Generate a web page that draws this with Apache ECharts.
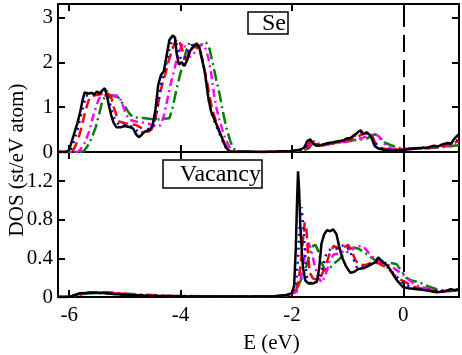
<!DOCTYPE html>
<html>
<head>
<meta charset="utf-8">
<script src="https://cdn.jsdelivr.net/npm/echarts@6/dist/echarts.min.js"></script>
<style>
html, body { margin: 0; padding: 0; background: #fff; }
#chart { width: 462px; height: 355px; }
</style>
</head>
<body>
<div id="chart"></div>
<script>
// tick labels
var xTicks = [-6, -4, -2, 0];
var seTicks = [0, 1, 2, 3];
var vacTicks = [0, 0.4, 0.8, 1.2];

// Se panel, [E, DOS]
var seBlack = [[-6.2,0],[-6.05,0],[-6.0,0.05],[-5.95,0.25],[-5.9,0.45],[-5.85,0.65],[-5.8,0.9],[-5.76,1.15],[-5.72,1.33],[-5.66,1.3],[-5.6,1.32],[-5.55,1.28],[-5.5,1.35],[-5.45,1.3],[-5.4,1.38],[-5.36,1.42],[-5.32,1.25],[-5.28,1.0],[-5.24,0.8],[-5.2,0.65],[-5.15,0.55],[-5.08,0.55],[-5.0,0.58],[-4.9,0.55],[-4.85,0.52],[-4.8,0.4],[-4.75,0.33],[-4.7,0.38],[-4.65,0.45],[-4.55,0.5],[-4.5,0.6],[-4.45,0.95],[-4.4,1.5],[-4.35,1.72],[-4.3,1.8],[-4.25,2.15],[-4.2,2.5],[-4.14,2.6],[-4.1,2.55],[-4.07,2.2],[-4.03,1.95],[-3.98,2.0],[-3.93,1.92],[-3.88,2.05],[-3.83,2.25],[-3.77,2.35],[-3.71,2.42],[-3.66,2.32],[-3.61,2.05],[-3.56,1.75],[-3.5,1.2],[-3.45,0.9],[-3.4,0.75],[-3.35,0.6],[-3.3,0.45],[-3.25,0.3],[-3.2,0.15],[-3.15,0.05],[-3.1,0.01],[-2.5,0],[-2.0,0.02],[-1.85,0.05],[-1.78,0.1],[-1.72,0.25],[-1.67,0.28],[-1.62,0.2],[-1.57,0.14],[-1.48,0.15],[-1.35,0.2],[-1.25,0.22],[-1.17,0.24],[-1.08,0.25],[-1.02,0.3],[-0.95,0.31],[-0.9,0.36],[-0.85,0.4],[-0.8,0.46],[-0.76,0.48],[-0.72,0.4],[-0.66,0.44],[-0.6,0.38],[-0.56,0.28],[-0.51,0.13],[-0.45,0.08],[-0.35,0.05],[-0.2,0.04],[0,0.04],[0.1,0.07],[0.3,0.09],[0.45,0.1],[0.55,0.14],[0.62,0.12],[0.7,0.17],[0.8,0.2],[0.86,0.18],[0.9,0.27],[0.95,0.34],[1.0,0.4]];
var seBlue = [[-6.2,0],[-6.0,0],[-5.95,0.1],[-5.9,0.3],[-5.85,0.5],[-5.8,0.75],[-5.75,1.0],[-5.7,1.25],[-5.65,1.28],[-5.55,1.3],[-5.45,1.32],[-5.38,1.38],[-5.32,1.35],[-5.27,1.1],[-5.22,0.85],[-5.17,0.7],[-5.1,0.6],[-5.0,0.6],[-4.9,0.58],[-4.8,0.5],[-4.75,0.42],[-4.7,0.42],[-4.6,0.5],[-4.5,0.55],[-4.45,0.7],[-4.4,1.1],[-4.35,1.5],[-4.3,1.75],[-4.25,2.0],[-4.2,2.3],[-4.15,2.5],[-4.1,2.55],[-4.05,2.3],[-4.0,2.1],[-3.95,2.05],[-3.9,2.15],[-3.85,2.3],[-3.8,2.38],[-3.74,2.4],[-3.68,2.35],[-3.63,2.2],[-3.58,1.9],[-3.53,1.5],[-3.48,1.05],[-3.43,0.8],[-3.38,0.65],[-3.33,0.5],[-3.28,0.35],[-3.23,0.2],[-3.18,0.08],[-3.13,0.02],[-3.08,0],[-2.5,0],[-2.0,0.02],[-1.82,0.05],[-1.75,0.12],[-1.7,0.24],[-1.65,0.26],[-1.6,0.18],[-1.55,0.14],[-1.45,0.16],[-1.3,0.2],[-1.15,0.24],[-1.0,0.28],[-0.9,0.34],[-0.8,0.42],[-0.72,0.45],[-0.66,0.42],[-0.6,0.4],[-0.52,0.25],[-0.46,0.12],[-0.38,0.07],[-0.2,0.05],[0,0.05],[0.2,0.08],[0.4,0.1],[0.6,0.13],[0.75,0.17],[0.88,0.2],[0.95,0.25],[1.0,0.3]];
var seRed = [[-6.2,0],[-5.95,0],[-5.9,0.1],[-5.85,0.25],[-5.8,0.45],[-5.75,0.7],[-5.7,0.95],[-5.65,1.15],[-5.6,1.25],[-5.5,1.27],[-5.4,1.3],[-5.3,1.3],[-5.25,1.25],[-5.2,1.0],[-5.15,0.82],[-5.1,0.68],[-5.0,0.64],[-4.9,0.62],[-4.8,0.6],[-4.72,0.55],[-4.65,0.48],[-4.58,0.45],[-4.52,0.5],[-4.47,0.65],[-4.42,0.95],[-4.37,1.3],[-4.32,1.55],[-4.27,1.75],[-4.22,2.0],[-4.16,2.25],[-4.1,2.45],[-4.05,2.52],[-4.0,2.4],[-3.95,2.2],[-3.9,2.05],[-3.85,2.2],[-3.8,2.3],[-3.74,2.36],[-3.68,2.3],[-3.63,2.15],[-3.58,1.9],[-3.53,1.6],[-3.48,1.25],[-3.43,0.95],[-3.38,0.75],[-3.33,0.55],[-3.28,0.38],[-3.23,0.22],[-3.18,0.1],[-3.13,0.03],[-3.08,0],[-2.5,0],[-2.0,0.02],[-1.8,0.05],[-1.72,0.12],[-1.67,0.24],[-1.62,0.26],[-1.57,0.18],[-1.5,0.14],[-1.4,0.17],[-1.25,0.2],[-1.1,0.24],[-0.95,0.28],[-0.85,0.33],[-0.75,0.38],[-0.68,0.42],[-0.62,0.4],[-0.56,0.35],[-0.5,0.2],[-0.43,0.1],[-0.3,0.06],[0,0.05],[0.2,0.07],[0.4,0.09],[0.6,0.12],[0.75,0.15],[0.88,0.18],[1.0,0.25]];
var seMagenta = [[-6.2,0],[-5.85,0],[-5.8,0.05],[-5.72,0.2],[-5.64,0.46],[-5.58,0.75],[-5.52,1.0],[-5.46,1.2],[-5.4,1.25],[-5.3,1.27],[-5.2,1.26],[-5.1,1.25],[-5.04,1.05],[-4.98,0.85],[-4.92,0.72],[-4.8,0.68],[-4.7,0.66],[-4.6,0.64],[-4.5,0.6],[-4.42,0.56],[-4.36,0.6],[-4.3,0.8],[-4.24,1.15],[-4.18,1.5],[-4.12,1.8],[-4.06,2.1],[-4.0,2.3],[-3.96,2.43],[-3.9,2.3],[-3.84,2.12],[-3.78,2.15],[-3.72,2.3],[-3.66,2.38],[-3.6,2.4],[-3.55,2.3],[-3.5,2.1],[-3.45,1.75],[-3.4,1.3],[-3.35,0.95],[-3.3,0.7],[-3.25,0.5],[-3.2,0.32],[-3.15,0.18],[-3.1,0.06],[-3.05,0.01],[-2.5,0],[-2.0,0.02],[-1.8,0.04],[-1.7,0.1],[-1.65,0.2],[-1.6,0.24],[-1.55,0.2],[-1.48,0.14],[-1.35,0.17],[-1.2,0.2],[-1.0,0.24],[-0.85,0.28],[-0.72,0.32],[-0.62,0.36],[-0.52,0.4],[-0.45,0.36],[-0.4,0.3],[-0.32,0.15],[-0.22,0.08],[0,0.05],[0.2,0.07],[0.4,0.08],[0.6,0.1],[0.8,0.13],[1.0,0.18]];
var seGreen = [[-6.2,0],[-5.78,0],[-5.73,0.03],[-5.66,0.15],[-5.6,0.3],[-5.52,0.56],[-5.46,0.85],[-5.4,1.16],[-5.34,1.24],[-5.23,1.26],[-5.12,1.22],[-5.05,1.1],[-4.98,0.98],[-4.92,0.86],[-4.86,0.78],[-4.76,0.76],[-4.68,0.76],[-4.56,0.74],[-4.44,0.72],[-4.32,0.74],[-4.2,0.75],[-4.14,1.0],[-4.08,1.35],[-4.02,1.67],[-3.96,1.95],[-3.9,2.25],[-3.84,2.44],[-3.78,2.4],[-3.72,2.33],[-3.66,2.35],[-3.6,2.42],[-3.54,2.44],[-3.48,2.3],[-3.42,1.97],[-3.36,1.62],[-3.3,1.3],[-3.24,0.9],[-3.17,0.5],[-3.1,0.22],[-3.06,0.1],[-3.0,0.02],[-2.5,0],[-2.0,0.02],[-1.8,0.04],[-1.7,0.08],[-1.65,0.16],[-1.6,0.21],[-1.55,0.2],[-1.45,0.14],[-1.35,0.17],[-1.2,0.2],[-1.05,0.22],[-0.9,0.26],[-0.75,0.28],[-0.65,0.3],[-0.58,0.36],[-0.5,0.4],[-0.42,0.3],[-0.32,0.2],[-0.22,0.15],[-0.1,0.1],[0,0.07],[0.2,0.07],[0.4,0.08],[0.6,0.1],[0.8,0.12],[1.0,0.15]];

// Vacancy panel, [E, DOS]
var vacBlack = [[-6.2,0],[-6.0,0],[-5.9,0.02],[-5.8,0.04],[-5.6,0.045],[-5.4,0.042],[-5.2,0.032],[-5.0,0.022],[-4.6,0.012],[-4.0,0.006],[-3.0,0.004],[-2.3,0.008],[-2.1,0.02],[-2.0,0.04],[-1.96,0.12],[-1.93,0.5],[-1.91,0.95],[-1.89,1.3],[-1.87,1.1],[-1.85,0.75],[-1.82,0.45],[-1.8,0.3],[-1.76,0.17],[-1.7,0.14],[-1.62,0.14],[-1.55,0.16],[-1.51,0.3],[-1.47,0.55],[-1.42,0.65],[-1.37,0.69],[-1.31,0.68],[-1.26,0.7],[-1.2,0.65],[-1.15,0.52],[-1.1,0.41],[-1.03,0.32],[-0.95,0.25],[-0.88,0.26],[-0.81,0.29],[-0.7,0.3],[-0.6,0.33],[-0.5,0.36],[-0.45,0.41],[-0.4,0.38],[-0.34,0.35],[-0.28,0.32],[-0.23,0.28],[-0.17,0.22],[-0.11,0.17],[-0.05,0.13],[0,0.1],[0.1,0.09],[0.25,0.08],[0.4,0.07],[0.6,0.05],[0.75,0.06],[0.85,0.08],[0.92,0.07],[1.0,0.08]];
var vacBlue = [[-6.2,0],[-6.0,0],[-5.9,0.02],[-5.8,0.038],[-5.6,0.042],[-5.4,0.04],[-5.2,0.03],[-5.0,0.02],[-4.6,0.012],[-4.0,0.006],[-3.0,0.004],[-2.3,0.008],[-2.1,0.02],[-1.98,0.04],[-1.93,0.12],[-1.89,0.4],[-1.86,0.75],[-1.83,0.93],[-1.8,0.78],[-1.77,0.5],[-1.74,0.22],[-1.68,0.15],[-1.6,0.14],[-1.52,0.18],[-1.45,0.3],[-1.38,0.45],[-1.3,0.5],[-1.2,0.5],[-1.1,0.53],[-1.03,0.54],[-0.97,0.48],[-0.9,0.4],[-0.83,0.3],[-0.75,0.31],[-0.65,0.33],[-0.55,0.35],[-0.45,0.37],[-0.38,0.36],[-0.3,0.32],[-0.2,0.26],[-0.1,0.2],[0,0.14],[0.15,0.1],[0.3,0.08],[0.5,0.07],[0.7,0.06],[0.85,0.07],[1.0,0.08]];
var vacRed = [[-6.2,0],[-6.05,0],[-5.95,0.01],[-5.85,0.03],[-5.7,0.045],[-5.5,0.05],[-5.3,0.045],[-5.1,0.035],[-4.8,0.02],[-4.2,0.01],[-3.0,0.004],[-2.3,0.008],[-2.1,0.02],[-1.96,0.04],[-1.9,0.1],[-1.85,0.3],[-1.8,0.6],[-1.77,0.77],[-1.74,0.7],[-1.71,0.45],[-1.68,0.25],[-1.62,0.19],[-1.55,0.18],[-1.47,0.22],[-1.4,0.32],[-1.32,0.45],[-1.25,0.53],[-1.15,0.5],[-1.05,0.52],[-0.99,0.54],[-0.93,0.48],[-0.86,0.38],[-0.78,0.33],[-0.68,0.33],[-0.55,0.36],[-0.45,0.35],[-0.35,0.32],[-0.25,0.28],[-0.15,0.22],[-0.05,0.18],[0.05,0.15],[0.15,0.11],[0.3,0.09],[0.5,0.07],[0.7,0.06],[0.85,0.07],[1.0,0.08]];
var vacMagenta = [[-6.2,0],[-6.05,0],[-5.95,0.01],[-5.85,0.025],[-5.7,0.04],[-5.5,0.045],[-5.3,0.045],[-5.1,0.035],[-4.8,0.022],[-4.2,0.01],[-3.0,0.004],[-2.3,0.008],[-2.05,0.02],[-1.92,0.05],[-1.85,0.15],[-1.79,0.35],[-1.74,0.52],[-1.7,0.56],[-1.66,0.5],[-1.6,0.35],[-1.53,0.2],[-1.46,0.15],[-1.4,0.22],[-1.33,0.36],[-1.25,0.44],[-1.15,0.45],[-1.05,0.48],[-0.95,0.5],[-0.85,0.52],[-0.75,0.53],[-0.68,0.5],[-0.6,0.44],[-0.5,0.39],[-0.4,0.36],[-0.3,0.34],[-0.2,0.31],[-0.1,0.27],[0,0.23],[0.1,0.18],[0.2,0.13],[0.35,0.1],[0.5,0.08],[0.7,0.06],[0.85,0.06],[1.0,0.07]];
var vacGreen = [[-6.2,0],[-6.05,0],[-5.95,0.008],[-5.85,0.02],[-5.7,0.035],[-5.5,0.045],[-5.3,0.048],[-5.1,0.04],[-4.8,0.028],[-4.2,0.012],[-3.0,0.004],[-2.3,0.008],[-2.05,0.02],[-1.97,0.05],[-1.92,0.1],[-1.86,0.15],[-1.8,0.22],[-1.74,0.32],[-1.68,0.45],[-1.62,0.53],[-1.58,0.54],[-1.53,0.48],[-1.47,0.36],[-1.4,0.27],[-1.32,0.3],[-1.24,0.35],[-1.17,0.38],[-1.1,0.42],[-1.02,0.46],[-0.95,0.48],[-0.88,0.51],[-0.8,0.5],[-0.7,0.46],[-0.6,0.42],[-0.5,0.38],[-0.4,0.36],[-0.3,0.35],[-0.2,0.35],[-0.12,0.34],[-0.05,0.28],[0.05,0.2],[0.15,0.17],[0.3,0.15],[0.45,0.11],[0.6,0.08],[0.8,0.06],[1.0,0.07]];

var FONT = 'Liberation Serif';
var chart = echarts.init(document.getElementById('chart'));

function xAx (grid, pos, labels) {
  return {
    type: 'value', gridIndex: grid, position: pos, min: -6.2, max: 1.0,
    axisLine: { show: true, onZero: false, lineStyle: { color: '#000', width: 2 } },
    axisTick: { show: true, inside: true, length: 7, customValues: xTicks, lineStyle: { color: '#000', width: 2 } },
    axisLabel: { show: labels, customValues: xTicks, color: '#000', fontFamily: FONT, fontSize: 21, margin: 8 },
    splitLine: { show: false },
    name: labels ? 'E (eV)' : '', nameLocation: 'middle', nameGap: 36,
    nameTextStyle: { color: '#000', fontFamily: FONT, fontSize: 21, padding: [0, 0, 0, 26] }
  };
}
function yAx (grid, pos, max, ticks, labels) {
  return {
    type: 'value', gridIndex: grid, position: pos, min: 0, max: max,
    axisLine: { show: true, onZero: false, lineStyle: { color: '#000', width: 2 } },
    axisTick: { show: true, inside: true, length: 7, customValues: ticks, lineStyle: { color: '#000', width: 2 } },
    axisLabel: { show: labels, customValues: ticks, color: '#000', fontFamily: FONT, fontSize: 21, margin: 5 },
    splitLine: { show: false }
  };
}

var styles = [
  { color: '#000000', type: 'solid' },
  { color: '#0000ff', type: [2, 5] },
  { color: '#ff0000', type: [10, 5] },
  { color: '#ff00ff', type: [8, 4, 2, 4] },
  { color: '#008000', type: [12, 4, 2, 4] }
];
var seData = [seBlack, seBlue, seRed, seMagenta, seGreen];
var vacData = [vacBlack, vacBlue, vacRed, vacMagenta, vacGreen];

var zeroLine = {
  silent: true, symbol: ['none', 'none'], label: { show: false },
  lineStyle: { color: '#000', type: [17, 8], width: 2 },
  data: [{ xAxis: 0 }]
};

var series = [];
[[seData, 0], [vacData, 2]].forEach(function (p) {
  p[0].forEach(function (d, i) {
    var s = {
      type: 'line', data: d, xAxisIndex: p[1], yAxisIndex: p[1],
      showSymbol: false, symbol: 'none', animation: false,
      lineStyle: { color: styles[i].color, type: styles[i].type, width: 2.5 },
      z: 10 - i
    };
    if (i === 0) s.markLine = zeroLine;
    series.push(s);
  });
});

chart.setOption({
  backgroundColor: '#fff',
  animation: false,
  grid: [
    { left: 58, top: 4, width: 401, height: 148 },
    { left: 58, top: 152, width: 401, height: 148 }
  ],
  xAxis: [xAx(0, 'bottom', false), xAx(0, 'top', false), xAx(1, 'bottom', true), xAx(1, 'top', false)],
  yAxis: [yAx(0, 'left', 3.3, seTicks, true), yAx(0, 'right', 3.3, seTicks, false),
          yAx(1, 'left', 1.5, vacTicks, true), yAx(1, 'right', 1.5, vacTicks, false)],
  graphic: [
    { type: 'rect', shape: { x: 248, y: 12, width: 40, height: 22 }, style: { fill: '#fff', stroke: '#000', lineWidth: 1.5 }, z: 100 },
    { type: 'text', x: 286, y: 24, style: { text: 'Se', align: 'right', verticalAlign: 'middle', font: '24px "Liberation Serif"', fill: '#000' }, z: 101 },
    { type: 'rect', shape: { x: 163, y: 160, width: 99, height: 28 }, style: { fill: '#fff', stroke: '#000', lineWidth: 1.5 }, z: 100 },
    { type: 'text', x: 261, y: 175, style: { text: 'Vacancy', align: 'right', verticalAlign: 'middle', font: '24px "Liberation Serif"', fill: '#000' }, z: 101 },
    { type: 'text', x: 17, y: 160, rotation: Math.PI / 2, style: { text: 'DOS (st/eV atom)', align: 'center', verticalAlign: 'middle', font: '21px "Liberation Serif"', fill: '#000' } }
  ],
  series: series
});
</script>
</body>
</html>
